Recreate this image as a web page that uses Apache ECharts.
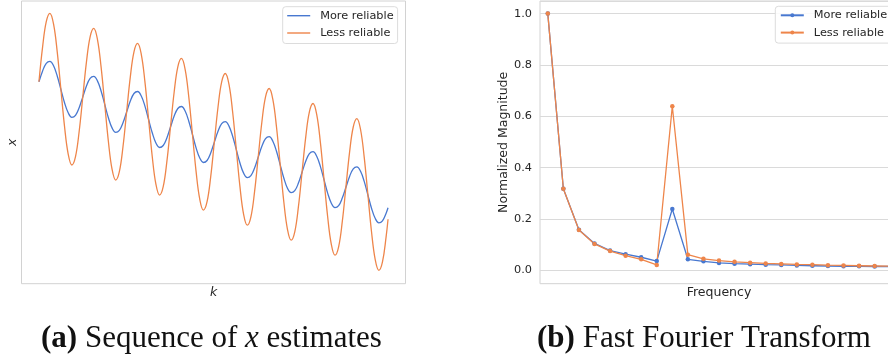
<!DOCTYPE html>
<html><head><meta charset="utf-8">
<script src="https://cdn.jsdelivr.net/npm/echarts@6/dist/echarts.min.js"></script>
<style>
html,body{margin:0;padding:0;background:#fff;overflow:hidden;width:888px;height:354px}
#a{position:absolute;left:0;top:0;width:444px;height:354px}
#b{position:absolute;left:444px;top:0;width:444px;height:354px}
</style>
</head><body><div id="a"></div><div id="b"></div>
<script>
const seriesNames = ['More reliable', 'Less reliable'];
const colors = ['#4878d0', '#ee854a'];

// (a) sequence of x estimates — k measured in sample steps (12 samples per oscillation)
const kValues = [
  0, 1, 2, 3, 4, 5, 6, 7, 8, 9, 10, 11,
  12, 13, 14, 15, 16, 17, 18, 19, 20, 21, 22, 23,
  24, 25, 26, 27, 28, 29, 30, 31, 32, 33, 34, 35,
  36, 37, 38, 39, 40, 41, 42, 43, 44, 45, 46, 47,
  48, 49, 50, 51, 52, 53, 54, 55, 56, 57, 58, 59,
  60, 61, 62, 63, 64, 65, 66, 67, 68, 69, 70, 71,
  72, 73, 74, 75, 76, 77, 78, 79, 80, 81, 82, 83,
  84, 85, 86, 87, 88, 89, 90, 91, 92, 93, 94, 95,
  95.52
];
const moreReliableX = [
  201.9, 212.8, 220.4, 222.4, 217.9, 207.7, 194.4, 181.0, 170.9, 166.4, 168.4, 176.0,
  186.8, 197.7, 205.3, 207.3, 202.8, 192.7, 179.3, 165.9, 155.8, 151.3, 153.3, 160.9,
  171.8, 182.6, 190.2, 192.2, 187.7, 177.6, 164.2, 150.9, 140.7, 136.2, 138.2, 145.8,
  156.7, 167.6, 175.2, 177.2, 172.7, 162.5, 149.2, 135.8, 125.7, 121.2, 123.2, 130.8,
  141.6, 152.5, 160.1, 162.1, 157.6, 147.5, 134.1, 120.7, 110.6, 106.1, 108.1, 115.7,
  126.6, 137.4, 145.0, 147.0, 142.5, 132.4, 119.0, 105.7, 95.5, 91.0, 93.0, 100.6,
  111.5, 122.4, 130.0, 132.0, 127.5, 117.3, 104.0, 90.6, 80.5, 76.0, 78.0, 85.6,
  96.4, 107.3, 114.9, 116.9, 112.4, 102.3, 88.9, 75.5, 65.4, 60.9, 62.9, 70.5,
  75.9
];
const lessReliableX = [
  202.0, 236.8, 262.0, 270.4, 259.5, 231.8, 194.5, 157.2, 129.6, 118.7, 127.1, 152.2,
  187.0, 221.8, 246.9, 255.3, 244.4, 216.8, 179.5, 142.2, 114.5, 103.6, 112.0, 137.2,
  172.0, 206.8, 231.9, 240.3, 229.4, 201.8, 164.5, 127.2, 99.5, 88.6, 97.0, 122.1,
  156.9, 191.7, 216.9, 225.3, 214.4, 186.7, 149.4, 112.1, 84.5, 73.6, 82.0, 107.1,
  141.9, 176.7, 201.8, 210.2, 199.3, 171.7, 134.4, 97.1, 69.4, 58.5, 66.9, 92.1,
  126.9, 161.7, 186.8, 195.2, 184.3, 156.7, 119.4, 82.0, 54.4, 43.5, 51.9, 77.0,
  111.8, 146.6, 171.8, 180.2, 169.3, 141.6, 104.3, 67.0, 39.4, 28.5, 36.9, 62.0,
  96.8, 131.6, 156.7, 165.1, 154.2, 126.6, 89.3, 52.0, 24.3, 13.4, 21.8, 47.0,
  64.4
];

// (b) FFT
const freqBins = ['0','1','2','3','4','5','6','7','8','9','10','11','12','13','14','15','16','17','18','19','20','21','22'];
const moreReliableFFT = [1.000, 0.318, 0.158, 0.105, 0.077, 0.063, 0.051, 0.036, 0.239, 0.043, 0.035, 0.029, 0.026, 0.024, 0.022, 0.021, 0.019, 0.018, 0.017, 0.016, 0.016, 0.015, 0.015];
const lessReliableFFT = [1.000, 0.318, 0.157, 0.103, 0.075, 0.057, 0.043, 0.021, 0.639, 0.061, 0.045, 0.038, 0.033, 0.030, 0.027, 0.025, 0.023, 0.022, 0.020, 0.019, 0.018, 0.017, 0.016];
const fftTickLabels = ['0.0', '0.2', '0.4', '0.6', '0.8', '1.0'];

const txt = '#262626';
const edge = '#d2d2d2';
const sans = 'DejaVu Sans';
const serif = 'Liberation Serif';

function captionTitle(text, left) {
  return {
    text: text, left: left, top: 318,
    textStyle: {
      fontFamily: serif, fontSize: 31, fontWeight: 'normal', color: '#111',
      rich: {
        b: {fontFamily: serif, fontSize: 31, fontWeight: 'bold', color: '#111'},
        i: {fontFamily: serif, fontSize: 31, fontStyle: 'italic', color: '#111'}
      }
    }
  };
}

function legendBox(left, top, withMarker) {
  return {
    orient: 'vertical', left: left, top: top,
    padding: [2, 4, 3.5, 4.5],
    itemGap: 3.3, itemWidth: 23, itemHeight: withMarker ? 5 : 1.4,
    icon: withMarker ? undefined : 'rect',
    backgroundColor: 'rgba(255,255,255,0.85)',
    borderColor: '#dcdcdc', borderWidth: 1, borderRadius: 3,
    textStyle: {fontFamily: sans, fontSize: 11.3, color: txt, lineHeight: 14, padding: [0, 0, 0, 5]},
    data: seriesNames
  };
}

const chartA = echarts.init(document.getElementById('a'), null, {renderer: 'canvas'});
chartA.setOption({
  animation: false,
  backgroundColor: '#fff',
  title: captionTitle('{b|(a)} Sequence of {i|x} estimates', 36),
  legend: legendBox(282.7, 6.7, false),
  grid: {left: 21.5, top: 1, width: 384, height: 282.7, show: true, borderColor: edge, borderWidth: 1, outerBoundsMode: 'none'},
  xAxis: {
    type: 'value', min: -4.776, max: 100.3,
    name: 'k', nameLocation: 'middle', nameGap: 3, nameMoveOverlap: false,
    nameTextStyle: {fontFamily: sans, fontStyle: 'italic', fontSize: 12.5, color: txt, verticalAlign: 'top'},
    axisLine: {show: false}, axisTick: {show: false}, axisLabel: {show: false}, splitLine: {show: false}
  },
  yAxis: {
    type: 'value', min: 0, max: 282.7,
    name: 'x', nameLocation: 'middle', nameGap: 2, nameRotate: 90, nameMoveOverlap: false,
    nameTextStyle: {fontFamily: sans, fontStyle: 'italic', fontSize: 12.5, color: txt},
    axisLine: {show: false}, axisTick: {show: false}, axisLabel: {show: false}, splitLine: {show: false}
  },
  series: [
    {name: seriesNames[0], type: 'line', symbol: 'none', smooth: 0.4,
     data: kValues.map((k, i) => [k, moreReliableX[i]]),
     lineStyle: {width: 1.3, color: colors[0]}, itemStyle: {color: colors[0]}},
    {name: seriesNames[1], type: 'line', symbol: 'none', smooth: 0.4,
     data: kValues.map((k, i) => [k, lessReliableX[i]]),
     lineStyle: {width: 1.3, color: colors[1]}, itemStyle: {color: colors[1]}}
  ]
});

const chartB = echarts.init(document.getElementById('b'), null, {renderer: 'canvas'});
chartB.setOption({
  animation: false,
  backgroundColor: '#fff',
  title: captionTitle('{b|(b)} Fast Fourier Transform', 88),
  legend: legendBox(331.3, 6.3, true),
  grid: {left: 96, top: 1, width: 358, height: 282.7, show: true, borderColor: edge, borderWidth: 1, outerBoundsMode: 'none'},
  xAxis: {
    type: 'category', data: freqBins, boundaryGap: true,
    name: 'Frequency', nameLocation: 'middle', nameGap: 3, nameMoveOverlap: false,
    nameTextStyle: {fontFamily: sans, fontSize: 12.5, color: txt, verticalAlign: 'top'},
    axisLine: {show: false}, axisTick: {show: false}, axisLabel: {show: false}, splitLine: {show: false}
  },
  yAxis: {
    type: 'value', min: -0.052, max: 1.049, splitNumber: 5,
    name: 'Normalized Magnitude', nameLocation: 'middle', nameGap: 30, nameRotate: 90, nameMoveOverlap: false,
    nameTextStyle: {fontFamily: sans, fontSize: 12.5, color: txt},
    axisLine: {show: false}, axisTick: {show: false},
    axisLabel: {
      fontFamily: sans, fontSize: 11.3, color: txt, margin: 8,
      showMinLabel: false, showMaxLabel: false,
      formatter: v => {
        const idx = Math.round(v / 0.2);
        return (Math.abs(v - idx * 0.2) < 1e-6 && fftTickLabels[idx]) ? fftTickLabels[idx] : '';
      }
    },
    splitLine: {show: true, lineStyle: {color: '#dadada', width: 1}}
  },
  series: [
    {name: seriesNames[0], type: 'line', symbol: 'circle', symbolSize: 4.5, data: moreReliableFFT,
     lineStyle: {width: 1.3, color: colors[0]}, itemStyle: {color: colors[0]}},
    {name: seriesNames[1], type: 'line', symbol: 'circle', symbolSize: 4.5, data: lessReliableFFT,
     lineStyle: {width: 1.3, color: colors[1]}, itemStyle: {color: colors[1]}}
  ]
});
</script>
</body></html>
